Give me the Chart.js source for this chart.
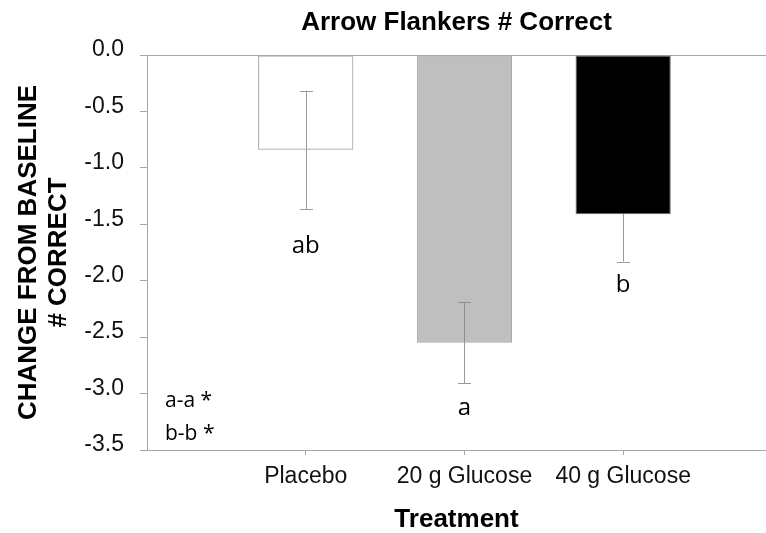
<!DOCTYPE html>
<html lang="en">
<head>
    <meta charset="UTF-8">
    <title>Arrow Flankers # Correct</title>
    <script src="https://cdn.jsdelivr.net/npm/chart.js"></script>
    <style>
        body {
            margin: 0;
            padding: 0;
            background: #fff;
        }
        .chart-box {
            width: 766px;
            height: 533px;
        }
    </style>
</head>
<body>

<div class="chart-box">
    <canvas id="flankerChart" width="766" height="533"></canvas>
</div>

<script>
    // values
    var treatments = ['Placebo', '20 g Glucose', '40 g Glucose'];
    var changeCorrect = [-0.84, -2.55, -1.41];
    var stdError = [0.525, 0.36, 0.42];
    var yTicks = [0, -0.5, -1, -1.5, -2, -2.5, -3, -3.5];

    // group letters under each bar, and where they sit (value units)
    var groupLetters = ['ab', 'a', 'b'];
    var letterY = [-1.75, -3.19, -2.10];
    var noteLines = ['a-a *', 'b-b *'];
    var noteY = [-3.12, -3.41];

    var axisGray = '#a6a6a6';
    var sans = '"Liberation Sans", Arial, sans-serif';

    // error bars go under the bars, the grey bar is see-through so the line shows
    var errorBars = {
        id: 'errorBars',
        beforeDatasetsDraw: function(chart) {
            var ctx = chart.ctx;
            var x = chart.scales.x;
            var y = chart.scales.y;
            ctx.save();
            ctx.strokeStyle = '#9a9a9a';
            ctx.lineWidth = 1;
            changeCorrect.forEach(function(v, i) {
                var px = Math.round(x.getPixelForValue(i + 1)) + 0.5;
                var top = y.getPixelForValue(v + stdError[i]);
                var bot = y.getPixelForValue(v - stdError[i]);
                ctx.beginPath();
                ctx.moveTo(px, top);
                ctx.lineTo(px, bot);
                ctx.moveTo(px - 6.5, Math.round(top) + 0.5);
                ctx.lineTo(px + 6.5, Math.round(top) + 0.5);
                ctx.moveTo(px - 6.5, Math.round(bot) + 0.5);
                ctx.lineTo(px + 6.5, Math.round(bot) + 0.5);
                ctx.stroke();
            });
            ctx.restore();
        }
    };

    var letters = {
        id: 'letters',
        afterDatasetsDraw: function(chart) {
            var ctx = chart.ctx;
            var x = chart.scales.x;
            var y = chart.scales.y;
            ctx.save();
            ctx.fillStyle = '#000';
            ctx.textBaseline = 'alphabetic';
            ctx.textAlign = 'center';
            ctx.font = '24px "Open Sans"';
            groupLetters.forEach(function(t, i) {
                ctx.fillText(t, x.getPixelForValue(i + 1), y.getPixelForValue(letterY[i]));
            });
            ctx.textAlign = 'left';
            ctx.font = '21px "Open Sans"';
            noteLines.forEach(function(t, i) {
                ctx.fillText(t, chart.chartArea.left + 18, y.getPixelForValue(noteY[i]));
            });
            ctx.restore();
        }
    };

    var ctx = document.getElementById('flankerChart').getContext('2d');
    var chart = new Chart(ctx, {
        type: 'bar',
        data: {
            datasets: [{
                data: changeCorrect.map(function(v, i) { return { x: i + 1, y: v }; }),
                backgroundColor: ['rgba(255,255,255,0)', 'rgba(128,128,128,0.5)', '#000000'],
                borderColor: ['#a0a0a0', '#a6a6a6', '#6a6a6a'],
                borderWidth: 1,
                borderSkipped: false,
                barPercentage: 0.6,
                categoryPercentage: 1
            }]
        },
        plugins: [errorBars, letters],
        options: {
            responsive: false,
            animation: false,
            devicePixelRatio: 1,
            layout: { padding: 0 },
            plugins: {
                legend: { display: false },
                tooltip: { enabled: false },
                title: {
                    display: true,
                    text: 'Arrow Flankers # Correct',
                    fullSize: false,
                    color: '#000',
                    font: { family: sans, size: 26, weight: 'bold', lineHeight: 1.2 },
                    padding: { top: 7, bottom: 16.8 }
                }
            },
            scales: {
                x: {
                    type: 'linear',
                    min: 0,
                    max: 3.9,
                    offset: false,
                    afterBuildTicks: function(scale) {
                        scale.ticks = treatments.map(function(t, i) { return { value: i + 1 }; });
                    },
                    afterFit: function(scale) { scale.height = 83; },
                    ticks: {
                        autoSkip: false,
                        maxRotation: 0,
                        padding: 8,
                        color: '#111',
                        font: { family: sans, size: 23 },
                        callback: function(v) { return treatments[v - 1] || ''; }
                    },
                    grid: {
                        offset: false,
                        drawOnChartArea: false,
                        tickLength: 5,
                        tickColor: axisGray
                    },
                    border: { color: axisGray },
                    title: {
                        display: true,
                        text: 'Treatment',
                        color: '#000',
                        font: { family: sans, size: 26, weight: 'bold', lineHeight: 1 },
                        padding: { top: 0, bottom: 0 }
                    }
                },
                y: {
                    min: -3.5,
                    max: 0,
                    afterBuildTicks: function(scale) {
                        scale.ticks = yTicks.map(function(v) { return { value: v }; });
                    },
                    afterFit: function(scale) { scale.width = 147; },
                    ticks: {
                        padding: 16,
                        labelOffset: -5,
                        color: '#111',
                        font: { family: sans, size: 23 },
                        callback: function(v) { return Number(v).toFixed(1); }
                    },
                    grid: {
                        tickLength: 7,
                        tickColor: axisGray,
                        color: function(c) { return c.tick && c.tick.value === 0 ? axisGray : 'rgba(0,0,0,0)'; }
                    },
                    border: { color: axisGray },
                    title: {
                        display: true,
                        text: ['CHANGE FROM BASELINE', '# CORRECT'],
                        color: '#000',
                        font: { family: sans, size: 26, weight: 'bold', lineHeight: 1.154 },
                        padding: { top: 14, bottom: 0 }
                    }
                }
            }
        }
    });
</script>

</body>
</html>
